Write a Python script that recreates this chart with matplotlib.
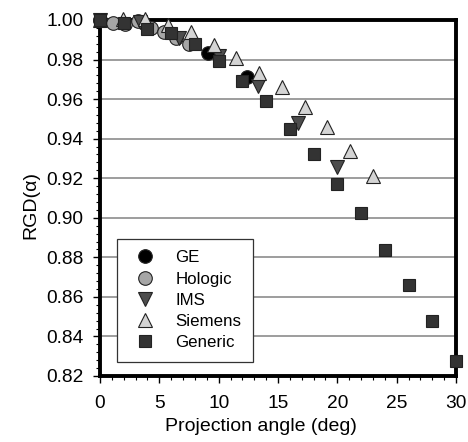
import matplotlib
matplotlib.use("Agg")
import matplotlib.pyplot as plt
from matplotlib.ticker import MultipleLocator, FormatStrFormatter

plt.rcParams['font.family'] = ['Liberation Sans', 'DejaVu Sans']

# Data
ge_x = [0.0, 9.1, 12.4]
ge_y = [1.000, 0.9835, 0.9712]

hologic_x = [0.0, 1.07, 2.14, 3.21, 4.29, 5.36, 6.43, 7.5]
hologic_y = [1.000, 0.9983, 0.998, 0.9993, 0.996, 0.9940, 0.9910, 0.9880]

ims_x = [0.0, 3.33, 6.67, 10.0, 13.33, 16.67, 20.0]
ims_y = [1.000, 0.9990, 0.9910, 0.9820, 0.9667, 0.9478, 0.9256]

siemens_x = [0.0, 1.92, 3.83, 5.75, 7.67, 9.58, 11.5, 13.42, 15.33, 17.25, 19.17, 21.08, 23.0]
siemens_y = [1.000, 1.0005, 1.0005, 0.9975, 0.9941, 0.9874, 0.9806, 0.9731, 0.9663, 0.9559, 0.9458, 0.9340, 0.9209]

generic_x = [0, 2, 4, 6, 8, 10, 12, 14, 16, 18, 20, 22, 24, 26, 28, 30]
generic_y = [1.000, 0.9983, 0.9953, 0.9933, 0.9877, 0.9794, 0.9693, 0.9592,
             0.9451, 0.9322, 0.9172, 0.9022, 0.8838, 0.8658, 0.8478, 0.8278]

fig = plt.figure(figsize=(4.68, 4.42), dpi=100)
ax = fig.add_axes([100/468, 1-376/442, 356/468, 356/442])

common = dict(linestyle='none', clip_on=False, markeredgecolor='#222222', markeredgewidth=0.8)
ax.plot(ge_x, ge_y, marker='o', markersize=9.8, markerfacecolor='#000000', label='GE', zorder=3, **common)
ax.plot(hologic_x, hologic_y, marker='o', markersize=9.8, markerfacecolor='#a6a6a6', label='Hologic', zorder=3, **common)
ax.plot(ims_x, ims_y, marker='v', markersize=10, markerfacecolor='#4d4d4d', label='IMS', zorder=3, **common)
ax.plot(siemens_x, siemens_y, marker='^', markersize=10, markerfacecolor='#d4d4d4', label='Siemens', zorder=3, **common)
ax.plot(generic_x, generic_y, marker='s', markersize=9, markerfacecolor='#333333', label='Generic', zorder=3, **common)

ax.set_xlim(0, 30)
ax.set_ylim(0.82, 1.00)
ax.xaxis.set_major_locator(MultipleLocator(5))
ax.xaxis.set_minor_locator(MultipleLocator(1))
ax.yaxis.set_major_locator(MultipleLocator(0.02))
ax.yaxis.set_minor_locator(MultipleLocator(0.004))
ax.yaxis.set_major_formatter(FormatStrFormatter('%.2f'))

ax.grid(axis='y', which='major', color='#8c8c8c', linewidth=1.2, zorder=0)
ax.set_axisbelow(True)
for s in ax.spines.values():
    s.set_linewidth(2.8)
    s.set_color('black')

ax.tick_params(axis='both', which='major', direction='out', length=5, width=1.0, labelsize=13.8)
ax.tick_params(axis='x', which='major', pad=9)
ax.tick_params(axis='y', which='major', pad=7)
ax.tick_params(axis='both', which='minor', direction='out', length=3, width=0.8)

ax.set_xlabel('Projection angle (deg)', fontsize=14, labelpad=4)
ax.set_ylabel('RGD(α)', fontsize=14, labelpad=5)
ax.xaxis.label.set_x(0.452)
ax.yaxis.label.set_y(0.48)

leg = ax.legend(loc='lower left', bbox_to_anchor=(0.048, 0.039), fontsize=12.2,
                frameon=True, fancybox=False, edgecolor='#333333', framealpha=1.0,
                borderpad=0.69, labelspacing=0.37, handletextpad=0.81, borderaxespad=0,
                handlelength=1.93, numpoints=1)
leg.get_frame().set_linewidth(0.9)

fig.savefig('out.png', dpi=100)
